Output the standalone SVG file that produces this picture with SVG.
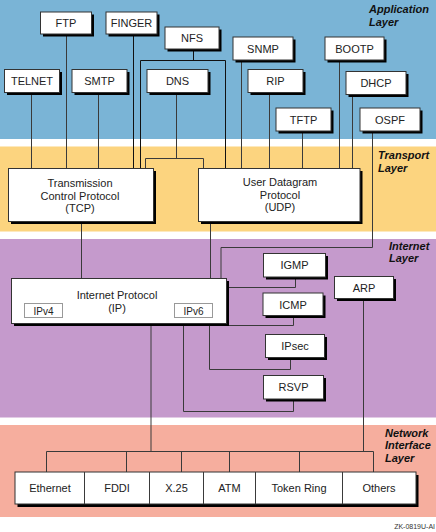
<svg xmlns="http://www.w3.org/2000/svg" width="436" height="532" viewBox="0 0 436 532">
<style>
.t{font-family:"Liberation Sans",Arial,sans-serif;font-size:11px;fill:#222;text-anchor:middle}
.s{font-size:10px}
.lay{font-family:"Liberation Sans",Arial,sans-serif;font-size:11px;font-weight:bold;font-style:italic;fill:#111}
.box{fill:#fff;stroke:#333;stroke-width:1}
.sub{fill:#fff;stroke:#999;stroke-width:1}
.sh{fill:#000}
.ln{fill:none;stroke:#3a3a3a;stroke-width:1}
.dk{stroke:#111}
</style>
<rect width="436" height="532" fill="#fff"/>
<g id="bands">
<rect x="0" y="0" width="436" height="139" fill="#7AB4D6"/>
<rect x="0" y="146.5" width="436" height="85" fill="#FCD47F"/>
<rect x="0" y="239" width="436" height="178.5" fill="#C59ACC"/>
<rect x="0" y="425" width="436" height="92" fill="#F6AE9E"/>
</g>
<g id="layer-labels">
<text class="lay" x="369" y="13">Application</text>
<text class="lay" x="369" y="25.5">Layer</text>
<text class="lay" x="378" y="159">Transport</text>
<text class="lay" x="378" y="171.5">Layer</text>
<text class="lay" x="389" y="250">Internet</text>
<text class="lay" x="389" y="262">Layer</text>
<text class="lay" x="385" y="436.5">Network</text>
<text class="lay" x="385" y="449">Interface</text>
<text class="lay" x="385" y="461.5">Layer</text>
</g>
<g id="connectors">
<path class="ln" d="M31.5 92.5V168.5M66.5 34V168.5M98.5 92.5V168.5"/>
<path class="ln dk" d="M133.5 34V168.5"/>
<path class="ln dk" d="M193.5 49V60.5M140.5 168.5V60.5H225.5V168.5"/>
<path class="ln" d="M176.5 92.5V158.5M145.5 168.5V158.5H203.5V168.5"/>
<path class="ln" d="M241.5 60V168.5M269.5 92.5V168.5M302.5 131V168.5M339.5 60V168.5M352.5 94.5V168.5"/>
<path class="ln" d="M372.5 131V247.5H221V278.5"/>
<path class="ln" d="M81.5 222V278.5M210.5 222V278.5"/>
<path class="ln" d="M229 287.5H295.5V277"/>
<path class="ln" d="M229 325.5H293.5V315.5"/>
<path class="ln" d="M209.5 326V369.5H290.5V357.5"/>
<path class="ln" d="M183.5 326V411.5H293.5V399"/>
<path class="ln" d="M363.5 298.5V451.5"/>
<path class="ln" d="M151 326V451.5"/>
<path class="ln" d="M46.5 451.5H373.5M46.5 451.5V472M126.5 451.5V472M181.5 451.5V472M229.5 451.5V472M299.5 451.5V472M373.5 451.5V472"/>
</g>
<g id="telnet"><rect class="sh" x="7" y="72" width="55" height="23"/><rect class="box" x="4.5" y="69.5" width="55" height="23"/><text class="t" x="32" y="85">TELNET</text></g>
<g id="ftp"><rect class="sh" x="43" y="14.5" width="51" height="22"/><rect class="box" x="40.5" y="12" width="51" height="22"/><text class="t" x="66" y="27">FTP</text></g>
<g id="smtp"><rect class="sh" x="74.5" y="72" width="55" height="23"/><rect class="box" x="72" y="69.5" width="55" height="23"/><text class="t" x="99.5" y="85">SMTP</text></g>
<g id="finger"><rect class="sh" x="108.5" y="14.5" width="51" height="22"/><rect class="box" x="106" y="12" width="51" height="22"/><text class="t" x="131.5" y="27">FINGER</text></g>
<g id="nfs"><rect class="sh" x="167.5" y="29.5" width="54" height="22"/><rect class="box" x="165" y="27" width="54" height="22"/><text class="t" x="192" y="42">NFS</text></g>
<g id="dns"><rect class="sh" x="149.5" y="72" width="61" height="23"/><rect class="box" x="147" y="69.5" width="61" height="23"/><text class="t" x="177.5" y="85">DNS</text></g>
<g id="snmp"><rect class="sh" x="235.5" y="39.5" width="60" height="23"/><rect class="box" x="233" y="37" width="60" height="23"/><text class="t" x="263" y="52.5">SNMP</text></g>
<g id="bootp"><rect class="sh" x="327.5" y="39.5" width="59" height="23"/><rect class="box" x="325" y="37" width="59" height="23"/><text class="t" x="354.5" y="52.5">BOOTP</text></g>
<g id="rip"><rect class="sh" x="250.5" y="72" width="55" height="23"/><rect class="box" x="248" y="69.5" width="55" height="23"/><text class="t" x="275.5" y="85">RIP</text></g>
<g id="dhcp"><rect class="sh" x="348.5" y="74" width="60" height="23"/><rect class="box" x="346" y="71.5" width="60" height="23"/><text class="t" x="376" y="87">DHCP</text></g>
<g id="tftp"><rect class="sh" x="278.5" y="110.5" width="55" height="23"/><rect class="box" x="276" y="108" width="55" height="23"/><text class="t" x="303.5" y="123.5">TFTP</text></g>
<g id="ospf"><rect class="sh" x="362.5" y="110.5" width="60" height="23"/><rect class="box" x="360" y="108" width="60" height="23"/><text class="t" x="390" y="123.5">OSPF</text></g>
<g id="tcp"><rect class="sh" x="11" y="171" width="145" height="53"/><rect class="box" x="8.5" y="168.5" width="145" height="53"/>
<text class="t" x="80" y="187">Transmission</text><text class="t" x="80" y="199.5">Control Protocol</text><text class="t" x="80" y="212">(TCP)</text></g>
<g id="udp"><rect class="sh" x="201" y="171" width="161.5" height="53"/><rect class="box" x="198.5" y="168.5" width="161.5" height="53"/>
<text class="t" x="280" y="186">User Datagram</text><text class="t" x="280" y="198.5">Protocol</text><text class="t" x="280" y="211">(UDP)</text></g>
<g id="ip"><rect class="sh" x="14" y="281" width="215" height="45"/><rect class="box" x="11.5" y="278.5" width="215" height="45"/>
<text class="t" x="117" y="299">Internet Protocol</text><text class="t" x="117" y="311.5">(IP)</text>
<rect class="sub" x="24.5" y="303.5" width="38" height="14"/><text class="t s" x="43.5" y="314.5">IPv4</text>
<rect class="sub" x="174.5" y="303.5" width="38" height="14"/><text class="t s" x="193.5" y="314.5">IPv6</text></g>
<g id="igmp"><rect class="sh" x="266" y="256" width="62" height="23.5"/><rect class="box" x="263.5" y="253.5" width="62" height="23.5"/><text class="t" x="294.5" y="269">IGMP</text></g>
<g id="icmp"><rect class="sh" x="265.5" y="295.5" width="60" height="22.5"/><rect class="box" x="263" y="293" width="60" height="22.5"/><text class="t" x="293" y="308.5">ICMP</text></g>
<g id="ipsec"><rect class="sh" x="268" y="337" width="59" height="23"/><rect class="box" x="265.5" y="334.5" width="59" height="23"/><text class="t" x="295" y="350">IPsec</text></g>
<g id="rsvp"><rect class="sh" x="266" y="378" width="60" height="23.5"/><rect class="box" x="263.5" y="375.5" width="60" height="23.5"/><text class="t" x="293.5" y="391">RSVP</text></g>
<g id="arp"><rect class="sh" x="337" y="279" width="59" height="22"/><rect class="box" x="334.5" y="276.5" width="59" height="22"/><text class="t" x="364" y="291.5">ARP</text></g>
<g id="network">
<rect class="sh" x="17.5" y="475" width="401" height="32"/>
<rect class="box" x="15" y="472" width="401" height="32"/>
<path class="ln" d="M84.5 472V504M149.5 472V504M203.5 472V504M255.5 472V504M342.5 472V504"/>
<text class="t" x="50" y="492">Ethernet</text>
<text class="t" x="117" y="492">FDDI</text>
<text class="t" x="176.5" y="492">X.25</text>
<text class="t" x="229.5" y="492">ATM</text>
<text class="t" x="299" y="492">Token Ring</text>
<text class="t" x="379" y="492">Others</text>
</g>
<text x="435" y="529" style="font-family:'Liberation Sans',Arial,sans-serif;font-size:7px;fill:#333;text-anchor:end">ZK-0819U-AI</text>
</svg>
